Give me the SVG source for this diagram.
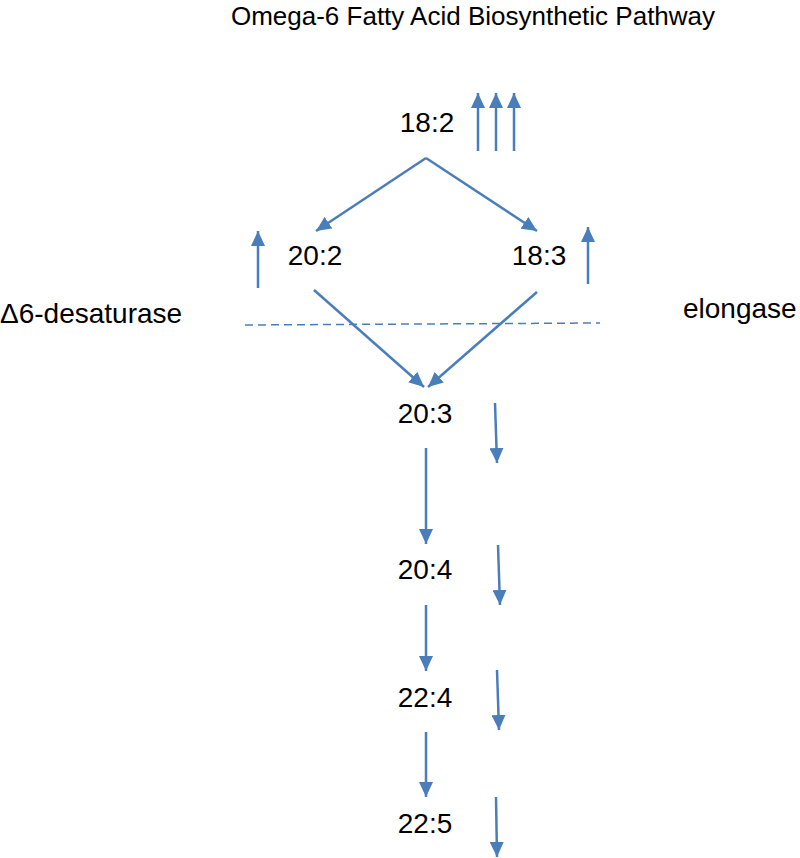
<svg xmlns="http://www.w3.org/2000/svg" width="800" height="858" viewBox="0 0 800 858">
<defs>
<style>
text{font-family:"Liberation Sans",Arial,sans-serif;fill:#000}
.lbl{font-size:28px}
.title{font-size:26px}
.c{stroke:#4A7EBB;stroke-width:2.5;fill:none}
.dash{stroke:#4A7EBB;stroke-width:1.5;stroke-dasharray:8 5;fill:none}
</style>
<marker id="ah" markerUnits="userSpaceOnUse" markerWidth="16" markerHeight="14" refX="15" refY="7" orient="auto">
<path d="M0,0 L15,7 L0,14 Z" fill="#4A7EBB"/>
</marker>
</defs>
<rect width="800" height="858" fill="#fff"/>
<g id="title"><text class="title" x="473" y="25" text-anchor="middle">Omega-6 Fatty Acid Biosynthetic Pathway</text></g>
<g id="n182"><text class="lbl" x="427" y="132" text-anchor="middle">18:2</text></g>
<g id="n202"><text class="lbl" x="315" y="265" text-anchor="middle">20:2</text></g>
<g id="n183"><text class="lbl" x="539" y="265" text-anchor="middle">18:3</text></g>
<g id="n203"><text class="lbl" x="425" y="423" text-anchor="middle">20:3</text></g>
<g id="n204"><text class="lbl" x="425" y="579" text-anchor="middle">20:4</text></g>
<g id="n224"><text class="lbl" x="425" y="707" text-anchor="middle">22:4</text></g>
<g id="n225"><text class="lbl" x="425" y="833" text-anchor="middle">22:5</text></g>
<g id="desat"><text class="lbl" x="0" y="323">Δ6-desaturase</text></g>
<g id="elong"><text class="lbl" x="683" y="318">elongase</text></g>
<g id="connectors">
<line class="c" x1="478" y1="151" x2="478" y2="93" marker-end="url(#ah)"/>
<line class="c" x1="496" y1="151" x2="496" y2="93" marker-end="url(#ah)"/>
<line class="c" x1="514" y1="151" x2="514" y2="93" marker-end="url(#ah)"/>
<line class="c" x1="426" y1="158" x2="316" y2="231" marker-end="url(#ah)"/>
<line class="c" x1="426" y1="158" x2="537" y2="231" marker-end="url(#ah)"/>
<line class="c" x1="258" y1="288" x2="258" y2="231" marker-end="url(#ah)"/>
<line class="c" x1="588" y1="284" x2="588" y2="227" marker-end="url(#ah)"/>
<line class="dash" x1="245" y1="325" x2="600" y2="323"/>
<line class="c" x1="314" y1="290" x2="424" y2="387" marker-end="url(#ah)"/>
<line class="c" x1="537" y1="292" x2="428" y2="387" marker-end="url(#ah)"/>
<line class="c" x1="495" y1="403" x2="497" y2="463" marker-end="url(#ah)"/>
<line class="c" x1="426" y1="448" x2="426" y2="544" marker-end="url(#ah)"/>
<line class="c" x1="498" y1="545" x2="500" y2="605" marker-end="url(#ah)"/>
<line class="c" x1="426" y1="605" x2="426" y2="671" marker-end="url(#ah)"/>
<line class="c" x1="497" y1="670" x2="499" y2="730" marker-end="url(#ah)"/>
<line class="c" x1="426" y1="732" x2="426" y2="797" marker-end="url(#ah)"/>
<line class="c" x1="496" y1="797" x2="497" y2="857" marker-end="url(#ah)"/>
</g>
</svg>
